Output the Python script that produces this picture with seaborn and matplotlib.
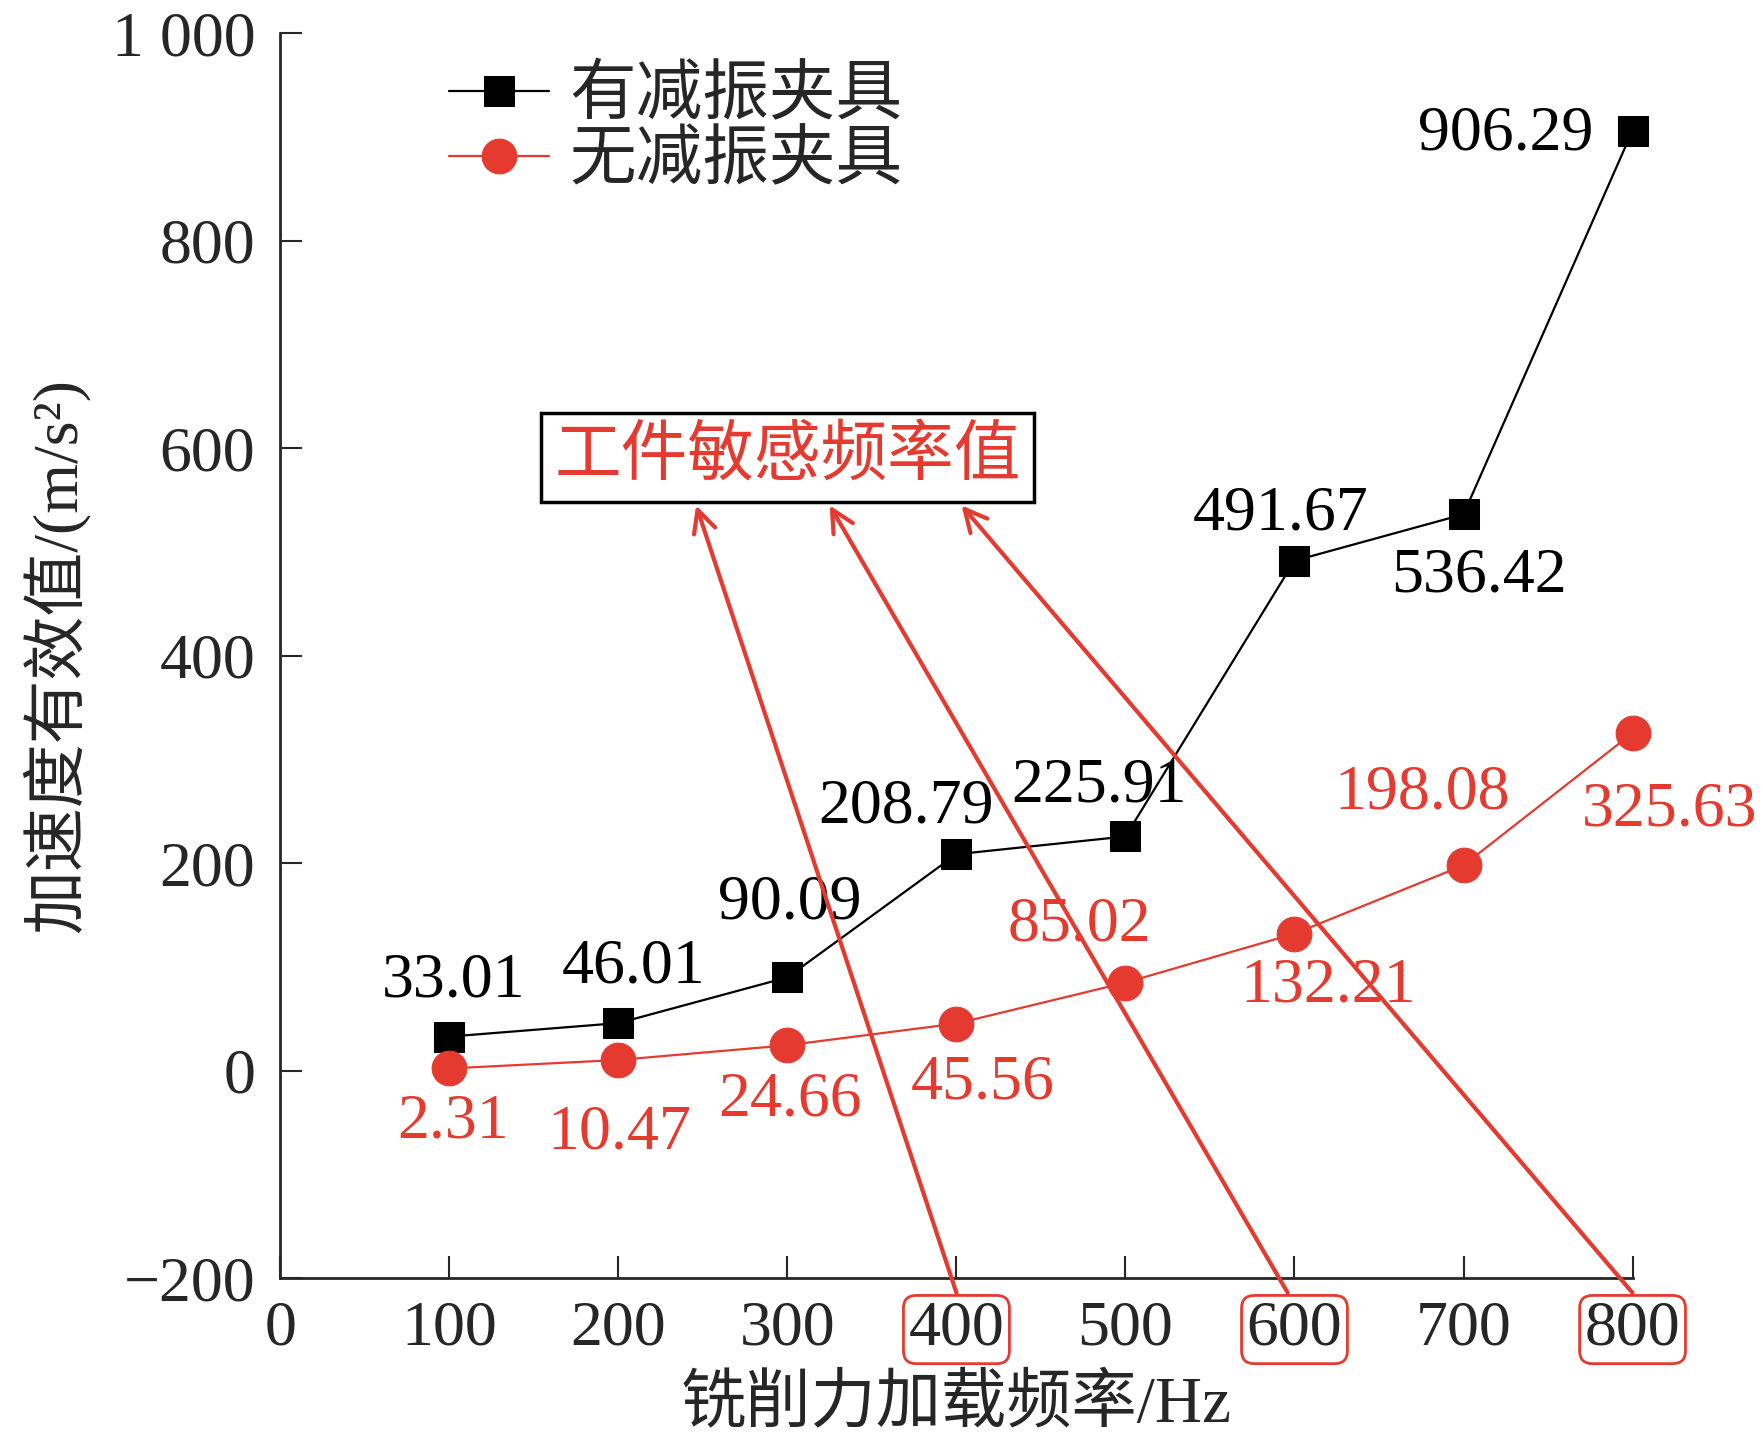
import matplotlib
matplotlib.use('Agg')
import matplotlib.pyplot as plt
import seaborn as sns
import pandas as pd

freq = [100, 200, 300, 400, 500, 600, 700, 800]
with_damp = [33.01, 46.01, 90.09, 208.79, 225.91, 491.67, 536.42, 906.29]
without_damp = [2.31, 10.47, 24.66, 45.56, 85.02, 132.21, 198.08, 325.63]
series_names = ['有减振夹具', '无减振夹具']
sensitive_freq = [400, 600, 800]
xtick_vals = [0, 100, 200, 300, 400, 500, 600, 700, 800]
ytick_vals = [-200, 0, 200, 400, 600, 800, 1000]
ytick_labels = ['\u2212200', '0', '200', '400', '600', '800', '1 000']

# label offsets (points) for each value label
black_off = [(3, 40), (11, 40), (2, 53), (-36, 34), (-19, 36), (-10, 33), (11, -45), (-91, -3)]
red_off = [(3, -39), (1, -53), (2, -40), (19, -43), (-33, 41), (24, -38), (-30, 52), (27, -56)]

sns.set_style('ticks')
plt.rcParams['font.family'] = ['Liberation Serif', 'Noto Sans CJK SC']
plt.rcParams['axes.unicode_minus'] = False

RED = '#e53a2f'
FS = 46

df = pd.DataFrame({'freq': freq, 'with': with_damp, 'without': without_damp})

fig = plt.figure(figsize=(17.63, 14.51), dpi=100)
ax = fig.add_axes([0.159, 0.119, 0.767, 0.858])

sns.lineplot(data=df, x='freq', y='with', ax=ax, color='black', marker='s',
             markersize=21, linewidth=1.6, label=series_names[0],
             markeredgecolor='black', clip_on=False)
sns.lineplot(data=df, x='freq', y='without', ax=ax, color=RED, marker='o',
             markersize=25, linewidth=1.6, label=series_names[1],
             markeredgecolor=RED, clip_on=False)

for x, y, off in zip(freq, with_damp, black_off):
    ax.annotate(f'{y:.2f}', (x, y), xytext=off, textcoords='offset points',
                ha='center', va='center', fontsize=FS, color='black')
for x, y, off in zip(freq, without_damp, red_off):
    ax.annotate(f'{y:.2f}', (x, y), xytext=off, textcoords='offset points',
                ha='center', va='center', fontsize=FS, color=RED)

ax.set_xlim(0, 800)
ax.set_ylim(-200, 1000)
ax.set_xticks(xtick_vals)
ax.set_xticklabels([str(v) for v in xtick_vals])
ax.set_yticks(ytick_vals)
ax.set_yticklabels(ytick_labels)
ax.tick_params(direction='in', length=16, width=1.5, labelsize=FS)
ax.tick_params(axis='x', pad=16)
ax.tick_params(axis='y', pad=18)
for s in ['top', 'right']:
    ax.spines[s].set_visible(False)
for s in ['left', 'bottom']:
    ax.spines[s].set_linewidth(2)

for lab in ax.get_xticklabels():
    if lab.get_text() in [str(v) for v in sensitive_freq]:
        lab.set_bbox(dict(boxstyle='round,pad=0.08,rounding_size=0.2',
                          facecolor='none', edgecolor=RED, linewidth=2))

ax.set_xlabel('铣削力加载频率/Hz', fontsize=47, labelpad=12)
ax.set_ylabel('加速度有效值/(m/s²)', fontsize=46, labelpad=16)

ax.legend(loc='upper left', bbox_to_anchor=(0.105, 0.995), frameon=False,
          fontsize=48, handlelength=1.5, handletextpad=0.3, labelspacing=0.05,
          borderaxespad=0)

# annotation box and arrows
box_x, box_y = 300, 591
ax.text(box_x, box_y, '工件敏感频率值', fontsize=48, color=RED,
        ha='center', va='center',
        bbox=dict(boxstyle='square,pad=0.2', facecolor='white',
                  edgecolor='black', linewidth=2.5))
arrow_heads = [(246, 545), (325, 545), (403, 545)]
arrow_tails = [(400, -214), (596, -214), (800, -214)]
for tail, head in zip(arrow_tails, arrow_heads):
    ax.annotate('', xy=head, xytext=tail, annotation_clip=False,
                arrowprops=dict(arrowstyle='->', color=RED, lw=3,
                                mutation_scale=40, shrinkA=0, shrinkB=0))

fig.savefig('out.png', dpi=100)
